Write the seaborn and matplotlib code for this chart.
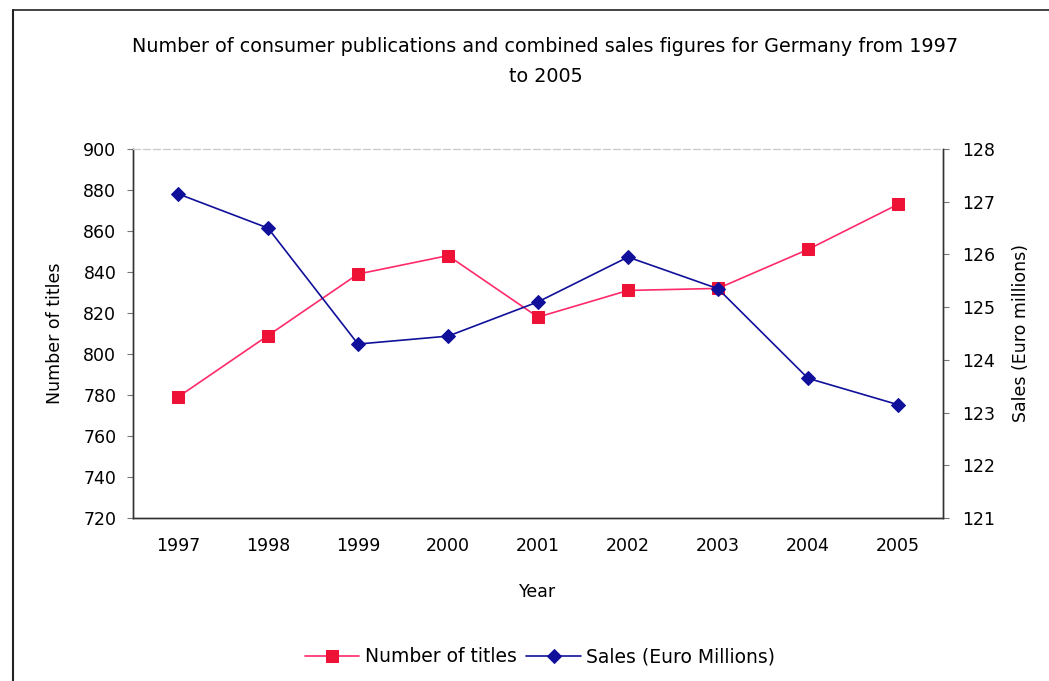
import pandas as pd
import matplotlib.pyplot as plt
import seaborn as sns
from matplotlib.lines import Line2D

years = [1997, 1998, 1999, 2000, 2001, 2002, 2003, 2004, 2005]
titles = [779, 809, 839, 848, 818, 831, 832, 851, 873]
sales = [127.15, 126.5, 124.3, 124.45, 125.1, 125.95, 125.35, 123.65, 123.15]

df = pd.DataFrame({"Year": years, "Number of titles": titles, "Sales (Euro Millions)": sales})

sns.set_style("white")
plt.rcParams["font.family"] = ["DejaVu Sans"]
plt.rcParams["text.color"] = "black"
plt.rcParams["axes.labelcolor"] = "black"

fig = plt.figure(figsize=(10.49, 6.81), dpi=100)
ax = fig.add_axes([133 / 1049, 1 - 518 / 681, 810 / 1049, 369 / 681])
ax2 = ax.twinx()

red = "#EE1237"
blue = "#10109A"

sns.lineplot(data=df, x="Year", y="Number of titles", ax=ax, color="#FF2A6A",
             marker="s", markersize=8, markerfacecolor=red, markeredgecolor=red,
             linewidth=1.2, label="Number of titles", legend=False)
sns.lineplot(data=df, x="Year", y="Sales (Euro Millions)", ax=ax2, color=blue,
             marker="D", markersize=7, markerfacecolor=blue, markeredgecolor=blue,
             linewidth=1.2, label="Sales (Euro Millions)", legend=False)

ax.set_xlim(1996.5, 2005.5)
ax.set_xticks(years)
ax.set_ylim(720, 900)
ax.set_yticks(range(720, 901, 20))
ax2.set_ylim(121, 128)
ax2.set_yticks(range(121, 129))

ax.tick_params(axis="x", length=0, pad=14, labelsize=12.5, labelcolor="black")
ax.tick_params(axis="y", length=4, color="#777777", direction="out", labelsize=12.5,
               pad=8, labelcolor="black")
ax2.tick_params(axis="y", length=4, color="#777777", direction="out", labelsize=12.5,
                pad=10, labelcolor="black")

for a in (ax, ax2):
    for s in ("left", "right", "bottom"):
        a.spines[s].set_color("#333333")
        a.spines[s].set_linewidth(1.0)
    a.spines["top"].set_color("#c8c8c8")
    a.spines["top"].set_linestyle((0, (6, 3)))
    a.spines["top"].set_linewidth(0.8)

ax.set_xlabel("Year", fontsize=12.5, labelpad=20)
ax.set_ylabel("Number of titles", fontsize=12.5, labelpad=14)
ax2.set_ylabel("Sales (Euro millions)", fontsize=12.5, labelpad=12)

fig.text(0.52, 1 - 47 / 681,
         "Number of consumer publications and combined sales figures for Germany from 1997",
         ha="center", va="center", fontsize=13.8)
fig.text(0.52, 1 - 76 / 681, "to 2005", ha="center", va="center", fontsize=13.8)

h1, l1 = ax.get_legend_handles_labels()
h2, l2 = ax2.get_legend_handles_labels()
fig.legend(h1 + h2, l1 + l2, loc="center", bbox_to_anchor=(0.515, 1 - 657 / 681),
           ncol=2, frameon=False, fontsize=13.5, handlelength=2.9, columnspacing=0.5,
           handletextpad=0.3)

# outer frame of the scanned chart
fig.add_artist(Line2D([13 / 1049, 13 / 1049], [0, 1 - 10 / 681], color="#222222", linewidth=1.5))
fig.add_artist(Line2D([13 / 1049, 1], [1 - 10 / 681, 1 - 10 / 681], color="#222222", linewidth=1.2))

fig.savefig("out.png", dpi=100)
